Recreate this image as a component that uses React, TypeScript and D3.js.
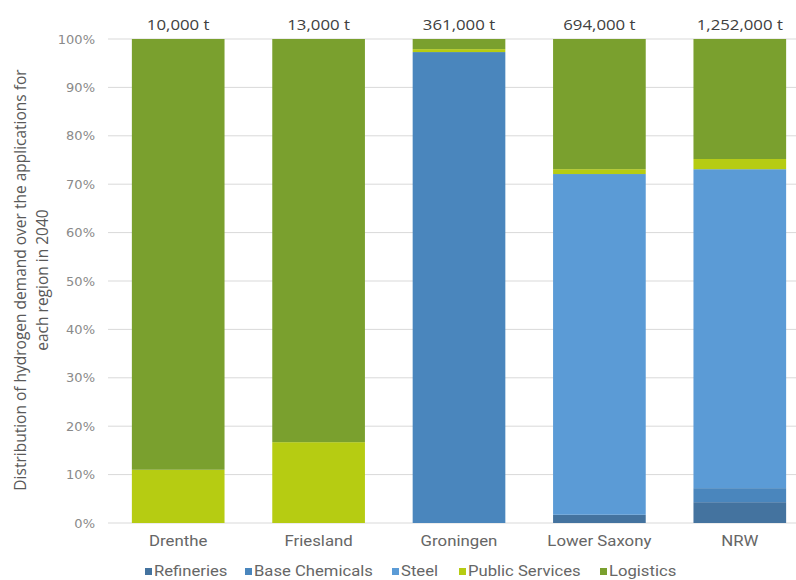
import React from "react";
import * as d3 from "d3";

const categories = ["Drenthe", "Friesland", "Groningen", "Lower Saxony", "NRW"];
const totals = ["10,000 t", "13,000 t", "361,000 t", "694,000 t", "1,252,000 t"];
const seriesNames = ["Refineries", "Base Chemicals", "Steel", "Public Services", "Logistics"];
const refineries = [0, 0, 0, 1.7, 4.3];
const baseChemicals = [0, 0, 97.3, 0, 2.9];
const steel = [0, 0, 0, 70.4, 65.9];
const publicServices = [11.0, 16.7, 0.6, 1.0, 2.1];
const logistics = [89.0, 83.3, 2.1, 26.9, 24.8];
const yTicks = [0, 10, 20, 30, 40, 50, 60, 70, 80, 90, 100];
const colors = ["#44739f", "#4a86bd", "#5b9bd6", "#b6cc12", "#7aa02e"];

export default function App() {
  const W = 796, H = 580;
  const left = 108, right = 810, top = 39, bottom = 523;
  const x = d3.scaleBand().domain(categories).range([left, right]).paddingInner(0.34).paddingOuter(0.17);
  const y = d3.scaleLinear().domain([0, 100]).range([bottom, top]);
  const series = [refineries, baseChemicals, steel, publicServices, logistics];
  const rows = categories.map((c, i) => {
    const r: any = { cat: c };
    seriesNames.forEach((s, j) => (r[s] = series[j][i]));
    return r;
  });
  const stack = d3.stack().keys(seriesNames)(rows as any);
  const font = "Roboto, sans-serif";
  const legendX = [145, 245, 392, 459, 600];
  return (
    <svg width={W} height={H} style={{ position: "absolute", left: 0, top: 0 }}>
      <rect width={W} height={H} fill="#fff" />
      {yTicks.map((t) => (
        <g key={t}>
          <line x1={left} x2={796} y1={y(t)} y2={y(t)} stroke="#d9d9d9" strokeWidth={1} />
          <text x={95} y={y(t) + 4.5} textAnchor="end" fontFamily="'DejaVu Sans', sans-serif" fontSize={13} fill="#8a8a8a">{t}%</text>
        </g>
      ))}
      {stack.map((layer, j) => (
        <g key={j} fill={colors[j]}>
          {layer.map((d, i) => (
            d[1] - d[0] > 0 ? (
              <rect key={i} x={x(categories[i])} width={x.bandwidth()} y={y(d[1])} height={y(d[0]) - y(d[1])} />
            ) : null
          ))}
        </g>
      ))}
      {categories.map((c, i) => {
        const cx = (x(c) as number) + x.bandwidth() / 2;
        return (
          <g key={c}>
            <text transform={`translate(${cx},30) scale(1.2,1)`} textAnchor="middle" fontFamily="'Open Sans', sans-serif" fontSize={14} fill="#404040">{totals[i]}</text>
            <text transform={`translate(${cx},546) scale(1.2,1)`} textAnchor="middle" fontFamily={font} fontSize={14} fill="#666">{c}</text>
          </g>
        );
      })}
      <g transform="translate(26,280) rotate(-90)">
        <text textAnchor="middle" fontFamily="'Open Sans', sans-serif" fontSize={15.5} fill="#595959">
          <tspan x={0} y={0}>Distribution of hydrogen demand over the applications for</tspan>
          <tspan x={0} y={22}>each region in 2040</tspan>
        </text>
      </g>
      {seriesNames.map((s, j) => (
        <g key={s} transform={`translate(${legendX[j]},571)`}>
          <rect x={0} y={-3} width={7} height={7} fill={colors[j]} />
          <text transform="translate(9,5) scale(1.19,1)" fontFamily={font} fontSize={14} fill="#666">{s}</text>
        </g>
      ))}
    </svg>
  );
}
